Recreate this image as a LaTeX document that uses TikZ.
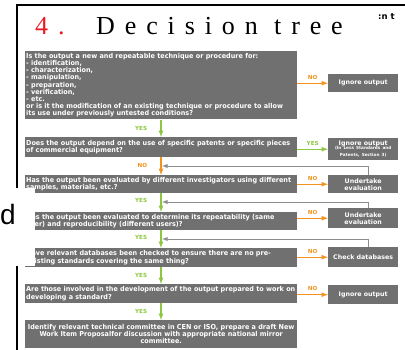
\documentclass[tikz,border=0pt]{standalone}
\usepackage{fontspec}
\setmainfont{Liberation Serif}
\newfontfamily\boxfont{DejaVu Sans}
\newfontfamily\qfont[FakeStretch=0.95]{DejaVu Sans}
\newfontfamily\slidefont{Liberation Sans}
\newfontfamily\titlefont[LetterSpace=38]{Liberation Serif}
\definecolor{boxgray}{RGB}{112,112,112}
\definecolor{noorange}{RGB}{243,146,30}
\definecolor{yesgreen}{RGB}{141,198,63}
\definecolor{titlered}{RGB}{232,28,36}
\definecolor{backgray}{RGB}{140,140,140}
\tikzset{
  qbox/.style={fill=boxgray, text=white, anchor=north west, inner xsep=1pt, inner ysep=2pt,
    text width=270pt, align=left, font=\qfont\bfseries\fontsize{6.8}{7.2}\selectfont},
  abox/.style={fill=boxgray, text=white, anchor=north west, inner sep=1pt,
    text width=68pt, align=center, font=\boxfont\bfseries\fontsize{6.3}{7}\selectfont},
  yesarrow/.style={->, yesgreen, line width=1.2pt},
  noarrow/.style={->, noorange, line width=1.2pt},
  backarrow/.style={->, backgray, line width=0.9pt},
  yeslbl/.style={text=yesgreen, font=\boxfont\bfseries\fontsize{5.6}{5.6}\selectfont},
  nolbl/.style={text=noorange, font=\boxfont\bfseries\fontsize{5.6}{5.6}\selectfont},
}

\begin{document}
\begin{tikzpicture}[x=1pt, y=-1pt, >=latex]
  \useasboundingbox (0,0) rectangle (405,350);
  % slide frame
  \draw[line width=1.3pt] (17,188) -- (17,5) -- (405,5);
  \draw[line width=1.3pt] (17,266) -- (17,350);
  \node[anchor=base west, inner sep=0, text=titlered, font=\titlefont\fontsize{26}{26}\selectfont] (num) at (35,35) {4.};
  \node[anchor=base west, inner sep=0, font=\titlefont\fontsize{26}{26}\selectfont] (title) at (96,35) {Decision tree};
  \node[anchor=base west, inner sep=0, font=\boxfont\bfseries\fontsize{8.5}{8.5}\selectfont] (corner) at (378,20) {:n t};

  % questions
  \node[qbox, minimum height=68pt] (q1) at (25,51) {Is the output a new and repeatable technique or procedure for:\\
    - identification,\\ - characterization,\\ - manipulation,\\ - preparation,\\ - verification,\\ - etc.\\
    or is it the modification of an existing technique or procedure to allow\\
    its use under previously untested conditions?};
  \node[qbox, minimum height=20pt] (q2) at (25,137) {Does the output depend on the use of specific patents or specific pieces\\ of commercial equipment?};
  \node[qbox, minimum height=18pt] (q3) at (25,175) {Has the output been evaluated by different investigators using different\\ samples, materials, etc.?};
  \node[qbox, minimum height=18pt] (q4) at (25,212) {Has the output been evaluated to determine its repeatability (same\\ user) and reproducibility (different users)?};
  \node[qbox, minimum height=19pt] (q5) at (25,248) {Have relevant databases been checked to ensure there are no pre-\\ existing standards covering the same thing?};
  \node[qbox, minimum height=19pt] (q6) at (25,284) {Are those involved in the development of the output prepared to work on\\ developing a standard?};
  \node[qbox, minimum height=28pt, align=center] (q7) at (25,320) {Identify relevant technical committee in CEN or ISO, prepare a draft New\\ Work Item Proposalfor discussion with appropriate national mirror\\ committee.};

  % answers
  \node[abox, minimum height=18pt] (a1) at (328,74) {Ignore output};
  \node[abox, minimum height=22pt] (a2) at (328,138) {Ignore output\\[-1pt]\fontsize{4.2}{4.8}\selectfont(In Less Standards and\\ Patents, Section 3)};
  \node[abox, minimum height=18pt] (a3) at (328,175) {Undertake\\ evaluation};
  \node[abox, minimum height=20pt] (a4) at (328,208) {Undertake\\ evaluation};
  \node[abox, minimum height=20pt] (a5) at (328,247) {Check databases};
  \node[abox, minimum height=19pt] (a6) at (328,285) {Ignore output};

  \coordinate (spine) at (161,0);
  \coordinate (fb1) at (162,166);
  \coordinate (fb2) at (162,202);
  \coordinate (fb3) at (162,239);

  % main path
  \draw[yesarrow] (q1.south -| spine) -- node[yeslbl, left=10pt] {YES} (q2.north -| spine);
  \draw[noarrow] (q2.south -| spine) -- node[nolbl, left=10pt, pos=0.45] {NO} (q3.north -| spine);
  \draw[yesarrow] (q3.south -| spine) -- node[yeslbl, left=10pt, pos=0.4] {YES} (q4.north -| spine);
  \draw[yesarrow] (q4.south -| spine) -- node[yeslbl, left=10pt, pos=0.4] {YES} (q5.north -| spine);
  \draw[yesarrow] (q5.south -| spine) -- node[yeslbl, left=10pt] {YES} (q6.north -| spine);
  \draw[yesarrow] (q6.south -| spine) -- node[yeslbl, left=10pt] {YES} (q7.north -| spine);

  % side branches
  \draw[noarrow] (a1.west -| q1.east) -- node[nolbl, above=0pt] {NO} (a1.west);
  \draw[yesarrow] (a2.west -| q2.east) -- node[yeslbl, above=0pt] {YES} (a2.west);
  \draw[noarrow] (a3.west -| q3.east) -- node[nolbl, above=0pt] {NO} (a3.west);
  \draw[noarrow] (a4.west -| q4.east) -- node[nolbl, above=0pt] {NO} (a4.west);
  \draw[noarrow] (a5.west -| q5.east) -- node[nolbl, above=0pt] {NO} (a5.west);
  \draw[noarrow] (a6.west -| q6.east) -- node[nolbl, above=0pt] {NO} (a6.west);

  % back to the main path
  \draw[backarrow] ([xshift=5pt]a3.north) |- (fb1);
  \draw[backarrow] ([xshift=5pt]a4.north) |- (fb2);
  \draw[backarrow] ([xshift=5pt]a5.north) |- (fb3);

  % window in front of the slide
  \fill[white] (0,188) rectangle (34.5,266);
  \node[anchor=base west, inner sep=0, font=\slidefont\fontsize{28}{28}\selectfont] (dchar) at (0,225) {d};
\end{tikzpicture}
\end{document}
